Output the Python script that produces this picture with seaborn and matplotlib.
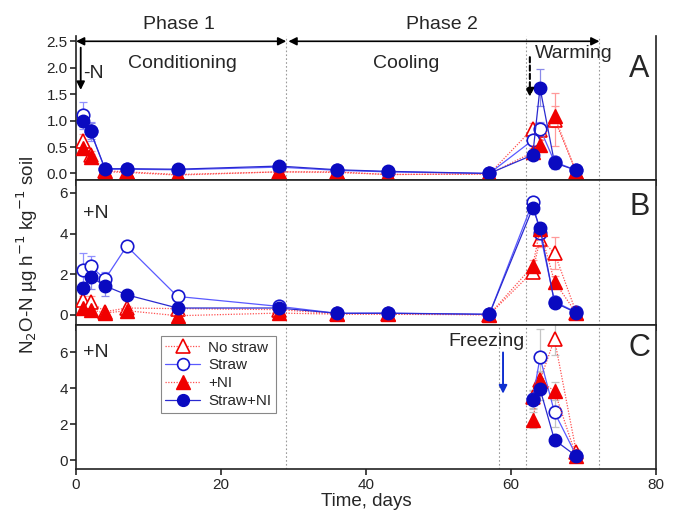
import matplotlib
matplotlib.use("Agg")
import matplotlib.pyplot as plt
import seaborn as sns
from matplotlib.lines import Line2D

# ---------------- data ----------------
days = [1, 2, 4, 7, 14, 28, 36, 43, 57, 63, 64, 66, 69]
days_c = [63, 64, 66, 69]
treatments = ["No straw", "Straw", "+NI", "Straw+NI"]

# Panel A (-N)
a_no_straw = [0.62, 0.35, 0.05, 0.03, -0.02, 0.03, 0.03, -0.02, -0.01, 0.85, 0.82, 1.02, 0.03]
a_straw = [1.10, 0.80, 0.08, 0.08, 0.07, 0.12, 0.06, 0.03, 0.00, 0.63, 0.85, 0.22, 0.06]
a_ni = [0.49, 0.31, 0.03, 0.02, -0.03, 0.03, 0.02, -0.02, -0.01, 0.40, 0.53, 1.08, 0.02]
a_straw_ni = [0.99, 0.80, 0.09, 0.09, 0.08, 0.14, 0.07, 0.04, 0.00, 0.35, 1.62, 0.20, 0.06]
a_err_no_straw = [0.12, 0.08, 0.02, 0.02, 0.02, 0.02, 0.02, 0.02, 0.02, 0.10, 0.12, 0.50, 0.02]
a_err_straw = [0.26, 0.18, 0.03, 0.03, 0.03, 0.03, 0.02, 0.02, 0.02, 0.10, 0.12, 0.10, 0.03]
a_err_ni = [0.10, 0.06, 0.02, 0.02, 0.02, 0.02, 0.02, 0.02, 0.02, 0.08, 0.10, 0.20, 0.02]
a_err_straw_ni = [0.12, 0.15, 0.03, 0.03, 0.03, 0.03, 0.02, 0.02, 0.02, 0.08, 0.35, 0.12, 0.03]

# Panel B (+N)
b_no_straw = [0.73, 0.65, 0.15, 0.33, 0.30, 0.25, 0.05, 0.05, 0.00, 2.12, 3.71, 3.05, 0.10]
b_straw = [2.20, 2.40, 1.75, 3.38, 0.90, 0.41, 0.07, 0.08, 0.02, 5.55, 4.03, 0.65, 0.12]
b_ni = [0.33, 0.25, 0.08, 0.20, -0.05, 0.08, 0.03, 0.02, 0.00, 2.40, 4.20, 1.63, 0.08]
b_straw_ni = [1.30, 1.88, 1.42, 0.98, 0.33, 0.33, 0.07, 0.07, 0.02, 5.26, 4.28, 0.60, 0.10]
b_err_no_straw = [0.20, 0.25, 0.05, 0.10, 0.05, 0.05, 0.03, 0.03, 0.03, 0.25, 0.35, 0.80, 0.05]
b_err_straw = [0.85, 0.50, 0.35, 0.10, 0.15, 0.10, 0.03, 0.03, 0.03, 0.25, 0.30, 0.15, 0.05]
b_err_ni = [0.10, 0.10, 0.05, 0.10, 0.05, 0.05, 0.03, 0.03, 0.03, 0.30, 0.30, 0.30, 0.05]
b_err_straw_ni = [0.30, 0.60, 0.50, 0.10, 0.10, 0.08, 0.03, 0.03, 0.03, 0.20, 0.25, 0.20, 0.05]

# Panel C (+N, freezing)
c_no_straw = [3.50, 4.45, 6.74, 0.46]
c_straw = [3.40, 5.72, 2.66, 0.25]
c_ni = [2.23, 4.41, 3.85, 0.20]
c_straw_ni = [3.35, 3.97, 1.12, 0.22]
c_err_no_straw = [0.40, 0.50, 0.90, 0.15]
c_err_straw = [0.50, 1.60, 0.80, 0.15]
c_err_ni = [0.45, 0.50, 0.50, 0.15]
c_err_straw_ni = [0.50, 0.60, 0.30, 0.15]

# ---------------- style ----------------
RED = "#f00000"
BLUE = "#0a0ac0"
styles = {
    "No straw": dict(color="#ff5050", ls=(0, (1, 1.2)), marker="^", mfc="white", mec=RED, ms=10, mew=1.2, ecol="#ff9a9a"),
    "Straw": dict(color="#5a5aff", ls="-", marker="o", mfc="white", mec="#1515d0", ms=9, mew=1.2, ecol="#9090ff"),
    "+NI": dict(color="#ff5050", ls=(0, (1, 1.2)), marker="^", mfc=RED, mec=RED, ms=10, mew=1.0, ecol="#ff9a9a"),
    "Straw+NI": dict(color="#2a2ad0", ls="-", marker="o", mfc=BLUE, mec=BLUE, ms=9, mew=1.0, ecol="#8a8ae8"),
}

sns.set_theme(style="ticks")
plt.rcParams["font.family"] = ["Liberation Sans", "DejaVu Sans"]
plt.rcParams["axes.linewidth"] = 1.2
plt.rcParams["xtick.major.width"] = 1.2
plt.rcParams["ytick.major.width"] = 1.2
plt.rcParams["xtick.major.size"] = 4.5
plt.rcParams["ytick.major.size"] = 4
plt.rcParams["xtick.labelsize"] = 11
plt.rcParams["ytick.labelsize"] = 11
plt.rcParams["axes.edgecolor"] = "#222222"

fig, axes = plt.subplots(3, 1, figsize=(6.78, 5.17), dpi=100, sharex=True)
fig.subplots_adjust(left=76 / 678, right=656 / 678, top=1 - 36 / 517, bottom=1 - 469 / 517, hspace=0)

panels = [
    (axes[0], days, [a_no_straw, a_straw, a_ni, a_straw_ni],
     [a_err_no_straw, a_err_straw, a_err_ni, a_err_straw_ni], False),
    (axes[1], days, [b_no_straw, b_straw, b_ni, b_straw_ni],
     [b_err_no_straw, b_err_straw, b_err_ni, b_err_straw_ni], False),
    (axes[2], days_c, [c_no_straw, c_straw, c_ni, c_straw_ni],
     [c_err_no_straw, c_err_straw, c_err_ni, c_err_straw_ni], True),
]

for ax, xs, ys, errs, gray in panels:
    for name, y, e in zip(treatments, ys, errs):
        st = styles[name]
        ax.errorbar(xs, y, yerr=e, fmt="none", ecolor="#c4c4c4" if gray else st["ecol"],
                    elinewidth=0.9, capsize=3, capthick=0.9, zorder=2)
    for name, y in zip(treatments, ys):
        st = styles[name]
        sns.lineplot(x=xs, y=y, ax=ax, sort=False, errorbar=None, legend=False,
                     color=st["color"], linestyle=st["ls"], linewidth=0.9,
                     marker=st["marker"], markersize=st["ms"], markerfacecolor=st["mfc"],
                     markeredgecolor=st["mec"], markeredgewidth=st["mew"], zorder=3)

# axis limits / ticks
axes[0].set_ylim(-0.13, 2.6)
axes[0].set_yticks([0.0, 0.5, 1.0, 1.5, 2.0, 2.5])
axes[0].set_yticklabels(["0.0", "0.5", "1.0", "1.5", "2.0", "2.5"])
axes[1].set_ylim(-0.49, 6.62)
axes[1].set_yticks([0, 2, 4, 6])
axes[2].set_ylim(-0.5, 7.55)
axes[2].set_yticks([0, 2, 4, 6])
axes[2].set_xlim(0, 80)
axes[2].set_xticks([0, 20, 40, 60, 80])
axes[2].set_xlabel("Time, days", fontsize=13.5, labelpad=1)

for ax in axes:
    ax.set_ylabel("")
    ax.tick_params(axis="both", direction="out", right=False, top=False, pad=2)
    for s in ["left", "right", "bottom", "top"]:
        ax.spines[s].set_visible(True)
        ax.spines[s].set_color("#222222")
    ax.axvline(29, color="#9a9a9a", ls=(0, (1.5, 2)), lw=0.8, zorder=1)
    ax.axvline(62, color="#9a9a9a", ls=(0, (1.5, 2)), lw=0.8, zorder=1)
    ax.axvline(72.2, color="#9a9a9a", ls=(0, (1.5, 2)), lw=0.8, zorder=1)
axes[0].spines["top"].set_visible(False)
axes[2].axvline(58.3, color="#9a9a9a", ls=(0, (1.5, 2)), lw=0.8, zorder=1)

fs = 14
# Panel A annotations
a = axes[0]
a.annotate("", xy=(0, 2.5), xytext=(29, 2.5), annotation_clip=False,
           arrowprops=dict(arrowstyle="<|-|>", color="black", lw=1.2, mutation_scale=12, shrinkA=0, shrinkB=0))
a.annotate("", xy=(29.3, 2.5), xytext=(72.2, 2.5), annotation_clip=False,
           arrowprops=dict(arrowstyle="<|-|>", color="black", lw=1.2, mutation_scale=12, shrinkA=0, shrinkB=0))
a.text(14.2, 2.66, "Phase 1", ha="center", va="bottom", fontsize=fs, clip_on=False)
a.text(50.5, 2.66, "Phase 2", ha="center", va="bottom", fontsize=fs, clip_on=False)
a.text(14.7, 2.08, "Conditioning", ha="center", va="center", fontsize=fs)
a.text(45.5, 2.08, "Cooling", ha="center", va="center", fontsize=fs)
a.text(63.3, 2.26, "Warming", ha="left", va="center", fontsize=fs)
a.text(1.0, 1.9, "-N", ha="left", va="center", fontsize=fs)
a.annotate("", xy=(0.65, 1.58), xytext=(0.65, 2.38),
           arrowprops=dict(arrowstyle="-|>", color="black", lw=1.3, mutation_scale=12, shrinkA=0, shrinkB=0))
a.annotate("", xy=(62.6, 1.45), xytext=(62.6, 2.2),
           arrowprops=dict(arrowstyle="-|>", color="black", lw=1.5, ls=(0, (2.5, 1.5)),
                           mutation_scale=12, shrinkA=0, shrinkB=0))
a.text(77.7, 1.98, "A", ha="center", va="center", fontsize=22)

b = axes[1]
b.text(1.0, 5.0, "+N", ha="left", va="center", fontsize=fs)
b.text(77.7, 5.3, "B", ha="center", va="center", fontsize=22)

c = axes[2]
c.text(1.0, 5.98, "+N", ha="left", va="center", fontsize=fs)
c.text(77.7, 6.24, "C", ha="center", va="center", fontsize=22)
c.text(56.6, 6.62, "Freezing", ha="center", va="center", fontsize=fs)
c.annotate("", xy=(58.9, 3.7), xytext=(58.9, 6.0),
           arrowprops=dict(arrowstyle="-|>", color="#1030d0", lw=1.4, mutation_scale=12, shrinkA=0, shrinkB=0))

# legend
handles = []
for name in treatments:
    st = styles[name]
    handles.append(Line2D([0], [0], color=st["color"], ls=st["ls"], lw=0.9, marker=st["marker"],
                          markersize=st["ms"] - 0.5, markerfacecolor=st["mfc"],
                          markeredgecolor=st["mec"], markeredgewidth=st["mew"]))
leg = c.legend(handles, treatments, loc="upper left", bbox_to_anchor=(0.146, 0.921),
               borderaxespad=0, fontsize=11, frameon=True, fancybox=False, framealpha=1,
               edgecolor="#888888", handlelength=2.3, handletextpad=0.5, labelspacing=0.25,
               borderpad=0.3)
leg.get_frame().set_linewidth(0.8)

fig.text(27 / 678, 1 - 255 / 517, "N$_2$O-N µg h$^{-1}$ kg$^{-1}$ soil", rotation=90,
         ha="center", va="center", fontsize=13.5)

fig.savefig("out.png", dpi=100)
